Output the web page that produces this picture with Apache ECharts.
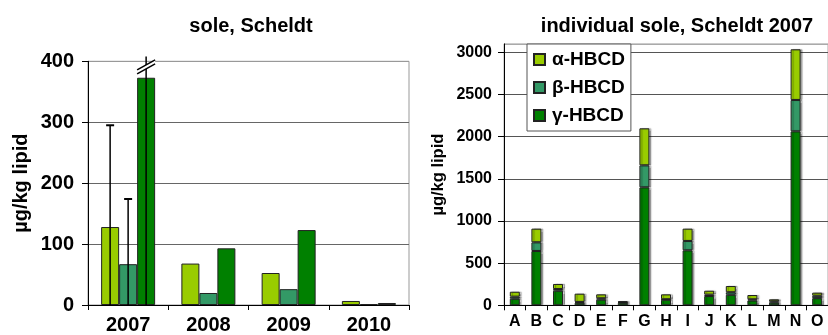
<!DOCTYPE html>
<html>
<head>
<meta charset="utf-8">
<script src="https://cdn.jsdelivr.net/npm/echarts@6/dist/echarts.min.js"></script>
<style>
html,body{margin:0;padding:0;background:#fff;}
#chart{width:828px;height:335px;}
</style>
</head>
<body>
<div id="chart"></div>
<script>
// ---- data: left panel (mean per year) ----
const years = ['2007', '2008', '2009', '2010'];
const alphaMean = [128, 68, 52.5, 6.6];
const betaMean = [67, 19.7, 26, 1.6];
const gammaMean = [373, 93, 123, 3.3];
// upper end of error bars (null = none)
const alphaErrTop = [295, null, null, null];
const betaErrTop = [174, null, null, null];
const gammaErrTop = [408, null, null, null]; // off-scale, marked with a break
const gammaBreakAt = [391, null, null, null];
const leftTicks = { min: 0, max: 400, interval: 100 };

// ---- data: right panel (individual fish, 2007) ----
const fish = ['A','B','C','D','E','F','G','H','I','J','K','L','M','N','O'];
const alphaInd = [59, 162, 60, 98, 47, 14, 439, 58, 146, 47, 74, 51, 24, 601, 37];
const betaInd  = [24, 103, 20, 10, 16, 6, 261, 6, 111, 16, 30, 14, 16, 372, 28];
const gammaInd = [78, 644, 173, 30, 67, 30, 1399, 66, 652, 110, 125, 57, 31, 2063, 85];
const rightTicks = { min: 0, max: 3100, interval: 500 };

const names = ['α-HBCD', 'β-HBCD', 'γ-HBCD'];
const colors = ['#99cc00', '#339966', '#008000'];

const FONT = '"Liberation Sans", Arial, sans-serif';
const chart = echarts.init(document.getElementById('chart'), null, { renderer: 'canvas' });

const errData = [];
[alphaErrTop, betaErrTop, gammaErrTop].forEach((arr, slot) => {
  arr.forEach((v, i) => { if (v != null) errData.push([i, slot, v]); });
});
const breakData = [];
gammaBreakAt.forEach((v, i) => { if (v != null) breakData.push([i, 2, v]); });

const BAR_W_LEFT = 18;

const axisTxt = (size) => ({ fontFamily: FONT, fontWeight: 'bold', fontSize: size, color: '#000' });
const plain = (v) => String(v);

const option = {
  animation: false,
  backgroundColor: '#fff',
  title: [
    { text: 'sole, Scheldt', left: 246, top: 11, textAlign: 'center',
      textStyle: { fontFamily: FONT, fontWeight: 'bold', fontSize: 20, color: '#000' } },
    { text: 'individual sole, Scheldt 2007', left: 672, top: 11, textAlign: 'center',
      textStyle: { fontFamily: FONT, fontWeight: 'bold', fontSize: 20, color: '#000' } }
  ],
  legend: {
    data: names,
    orient: 'vertical',
    left: 527, top: 44,
    padding: [6, 6, 6, 6],
    itemWidth: 11, itemHeight: 11,
    itemGap: 9,
    backgroundColor: '#fff',
    borderColor: '#555',
    borderWidth: 1,
    icon: 'rect',
    selectedMode: false,
    textStyle: { fontFamily: FONT, fontWeight: 'bold', fontSize: 19, color: '#000', padding: [0, 0, 0, 2] }
  },
  grid: [
    { left: 88, top: 61.3, width: 321, height: 244, show: true, borderColor: '#999', borderWidth: 1, containLabel: false },
    { left: 504, top: 43.9, width: 336, height: 261.4, show: true, borderColor: '#aaa', borderWidth: 1, containLabel: false }
  ],
  xAxis: [
    { type: 'category', gridIndex: 0, data: years,
      axisLine: { lineStyle: { color: '#000', width: 1 } },
      axisTick: { show: true, length: 5, lineStyle: { color: '#000' } },
      axisLabel: Object.assign({ margin: 10 }, axisTxt(20)) },
    { type: 'category', gridIndex: 1, data: fish,
      axisLine: { lineStyle: { color: '#000', width: 1 } },
      axisTick: { show: true, length: 5, lineStyle: { color: '#000' } },
      axisLabel: Object.assign({ margin: 8, interval: 0 }, axisTxt(16)) }
  ],
  yAxis: [
    { type: 'value', gridIndex: 0, min: leftTicks.min, max: leftTicks.max, interval: leftTicks.interval,
      name: 'µg/kg lipid', nameLocation: 'middle', nameGap: 57, nameRotate: 90,
      nameTextStyle: axisTxt(20),
      axisLine: { show: true, lineStyle: { color: '#000', width: 1 } },
      axisTick: { show: true, length: 6, lineStyle: { color: '#000' } },
      splitLine: { show: true, lineStyle: { color: ['#666', '#666', '#666', '#666', '#999'], width: 1 } },
      axisLabel: Object.assign({ margin: 14, formatter: plain }, axisTxt(20)) },
    { type: 'value', gridIndex: 1, min: rightTicks.min, max: rightTicks.max, interval: rightTicks.interval,
      name: 'µg/kg lipid', nameLocation: 'middle', nameGap: 57, nameRotate: 90,
      nameTextStyle: axisTxt(16.5),
      axisLine: { show: true, lineStyle: { color: '#000', width: 1 } },
      axisTick: { show: true, length: 6, lineStyle: { color: '#000' } },
      splitLine: { show: true, lineStyle: { color: ['#555', '#555', '#555', '#555', '#555', '#555', '#555', '#aaa'], width: 1 } },
      axisLabel: Object.assign({ margin: 12, showMaxLabel: false, formatter: plain }, axisTxt(16)) }
  ],
  series: [
    // left panel bars
    { name: names[0], type: 'bar', xAxisIndex: 0, yAxisIndex: 0, data: alphaMean, barWidth: BAR_W_LEFT, barGap: '0%',
      itemStyle: { color: colors[0], borderColor: '#222', borderWidth: 1 } },
    { name: names[1], type: 'bar', xAxisIndex: 0, yAxisIndex: 0, data: betaMean, barWidth: BAR_W_LEFT, barGap: '0%',
      itemStyle: { color: colors[1], borderColor: '#222', borderWidth: 1 } },
    { name: names[2], type: 'bar', xAxisIndex: 0, yAxisIndex: 0, data: gammaMean, barWidth: BAR_W_LEFT, barGap: '0%',
      itemStyle: { color: colors[2], borderColor: '#222', borderWidth: 1 } },
    // error bars
    { type: 'custom', xAxisIndex: 0, yAxisIndex: 0, data: errData, z: 10, clip: false,
      renderItem: function (params, api) {
        const cat = api.value(0), slot = api.value(1), top = api.value(2);
        const base = api.coord([cat, 0]);
        const tp = api.coord([cat, top]);
        const x = base[0] + (slot - 1) * BAR_W_LEFT;
        const children = [
          { type: 'line', shape: { x1: x, y1: base[1], x2: x, y2: tp[1] }, style: { stroke: '#000', lineWidth: 1.5 } }
        ];
        if (slot !== 2) {
          children.push({ type: 'line', shape: { x1: x - 4, y1: tp[1], x2: x + 4, y2: tp[1] }, style: { stroke: '#000', lineWidth: 2 } });
        }
        return { type: 'group', children: children };
      } },
    // axis break mark on off-scale error bar
    { type: 'custom', xAxisIndex: 0, yAxisIndex: 0, data: breakData, z: 11, clip: false,
      renderItem: function (params, api) {
        const cat = api.value(0), slot = api.value(1), v = api.value(2);
        const p = api.coord([cat, v]);
        const x = api.coord([cat, 0])[0] + (slot - 1) * BAR_W_LEFT;
        const y = p[1];
        return { type: 'group', children: [
          { type: 'polygon', shape: { points: [[x - 9, y + 3], [x + 9, y - 7], [x + 9, y - 3], [x - 9, y + 7]] }, style: { fill: '#fff' } },
          { type: 'line', shape: { x1: x - 9, y1: y + 3, x2: x + 9, y2: y - 7 }, style: { stroke: '#000', lineWidth: 1.5 } },
          { type: 'line', shape: { x1: x - 9, y1: y + 7, x2: x + 9, y2: y - 3 }, style: { stroke: '#000', lineWidth: 1.5 } }
        ] };
      } },
    // right panel stacked bars
    { name: names[2], type: 'bar', xAxisIndex: 1, yAxisIndex: 1, stack: 'ind', data: gammaInd, barWidth: 10,
      itemStyle: { color: colors[2], borderColor: '#222', borderWidth: 1, shadowColor: 'rgba(0,0,0,0.3)', shadowOffsetX: 2, shadowBlur: 1 } },
    { name: names[1], type: 'bar', xAxisIndex: 1, yAxisIndex: 1, stack: 'ind', data: betaInd, barWidth: 10,
      itemStyle: { color: colors[1], borderColor: '#222', borderWidth: 1, shadowColor: 'rgba(0,0,0,0.3)', shadowOffsetX: 2, shadowBlur: 1 } },
    { name: names[0], type: 'bar', xAxisIndex: 1, yAxisIndex: 1, stack: 'ind', data: alphaInd, barWidth: 10,
      itemStyle: { color: colors[0], borderColor: '#222', borderWidth: 1, shadowColor: 'rgba(0,0,0,0.3)', shadowOffsetX: 2, shadowBlur: 1 } }
  ]
};
chart.setOption(option);
</script>
</body>
</html>
